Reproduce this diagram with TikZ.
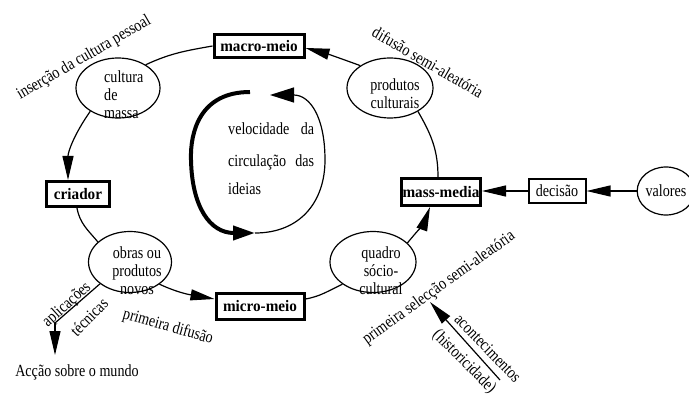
\documentclass[tikz,border=0pt]{standalone}
\usepackage{fontspec}
\setmainfont{Liberation Serif}[FakeStretch=0.83]
\newfontfamily\boldfam{Liberation Serif}[FakeStretch=0.95]
\usetikzlibrary{arrows.meta,shapes.geometric}
\begin{document}
\begin{tikzpicture}[x=1pt,y=1pt,
  every node/.style={font=\fontsize{17}{18}\selectfont, inner sep=0pt},
  box/.style={draw, line width=3pt, font=\boldfam\bfseries\fontsize{16}{17}\selectfont},
  ell/.style={draw, ellipse, line width=1.2pt},
  conn/.style={line width=1.2pt},
  arr/.style={conn, -{Triangle[length=24pt,width=11pt]}},
  lbl/.style={font=\fontsize{17}{18}\selectfont}]
\useasboundingbox (0,0) rectangle (689,397);
% boxes
\node[box, minimum width=90pt, minimum height=23pt] (mm) at (259,351) {macro-meio};
\node[box, minimum width=63pt, minimum height=25pt] (cr) at (78,203) {criador};
\node[box, minimum width=79pt, minimum height=27pt] (ms) at (441,205) {mass-media};
\node[box, line width=2pt, minimum width=57pt, minimum height=24pt, font=\fontsize{17}{18}\selectfont] (de) at (557,206) {decisão};
\node[box, minimum width=88pt, minimum height=26pt] (mi) at (260,91) {micro-meio};
% ellipses
\node[ell, minimum width=56pt, minimum height=48pt] (va) at (666,206) {valores};
\node[ell, minimum width=84pt, minimum height=60pt] (cm) at (118,309) {};
\node[align=left, anchor=west] (cmt) at (104,302) {cultura\\de\\massa};
\node[ell, minimum width=86pt, minimum height=60pt] (pc) at (390,309) {};
\node[align=center] (pct) at (395,303) {produtos\\culturais};
\node[ell, minimum width=83pt, minimum height=61pt] (ob) at (130,135) {};
\node[align=center] (obt) at (137,126) {obras ou\\produtos\\novos};
\node[ell, minimum width=86pt, minimum height=61pt] (qs) at (373,135) {};
\node[align=center] (qst) at (381,126) {quadro\\sócio-\\cultural};
% main loop
\draw[conn] (mm.west) to[out=190,in=25] (cm.40);
\draw[arr] (cm.220) to[out=235,in=90] ([xshift=-10pt]cr.north);
\draw[conn] ([xshift=-1pt]cr.south) to[out=280,in=130] (ob.148);
\draw[arr] (ob.-37) to[out=-25,in=170] ([yshift=7pt]mi.west);
\draw[conn] ([yshift=7pt]mi.east) to[out=10,in=205] (qs.216);
\draw[arr] (qs.29) to[out=50,in=250] ([xshift=-11pt]ms.south);
\draw[conn] (pc.-40) to[out=-60,in=90] ([xshift=-3pt]ms.north);
\draw[arr] (pc.143) to[out=160,in=-15] ([yshift=-2pt]mm.east);
\draw[arr] (de.west) -- (de.west -| ms.east);
\draw[arr] (va.west) -- (va.west -| de.east);
% applications
\coordinate (a1) at (55,74);
\coordinate (a2) at (55,42);
\draw[conn] (ob.216) -- (a1);
\draw[arr] (a1) -- (a2);
% events
\coordinate (h1) at (500,17);
\coordinate (h2) at (430,95);
\draw[arr] (h1) -- (h2);
% inner cycle
\coordinate (ta) at (250,305);
\coordinate (tb) at (255,164);
\coordinate (tc) at (270,302);
\draw[line width=4pt, -{Triangle[length=22pt,width=14pt]}] (ta) .. controls (200,305) and (190,265) .. (191,237) .. controls (192,190) and (210,164) .. (tb);
\draw[conn, -{Triangle[length=24pt,width=15pt]}] (tb) .. controls (300,164) and (325,195) .. (325,237) .. controls (325,280) and (310,302) .. (tc);
\node[anchor=base west] (v1) at (228,262) {\makebox[86pt][s]{velocidade da}};
\node[anchor=base west] (v2) at (228,230) {\makebox[86pt][s]{circulação das}};
\node[anchor=base west] (v3) at (228,202) {ideias};
% labels
\node[lbl, rotate=30] (l1) at (84,339) {inserção da cultura pessoal};
\node[lbl, rotate=-30] (l2) at (428,335) {difusão semi-aleatória};
\node[lbl, rotate=42] (l3) at (67,92) {aplicações};
\node[lbl, rotate=45] (l4) at (89,80) {técnicas};
\node[lbl, rotate=-16] (l5) at (168,70) {primeira difusão};
\node[lbl] (l6) at (77,25) {Acção sobre o mundo};
\node[lbl, rotate=35.5] (l7) at (439,109) {primeira selecção semi-aleatória};
\node[lbl, rotate=-46] (l8) at (488,49) {acontecimentos};
\node[lbl, rotate=-45] (l9) at (464,35) {(historicidade)};
\end{tikzpicture}
\end{document}
